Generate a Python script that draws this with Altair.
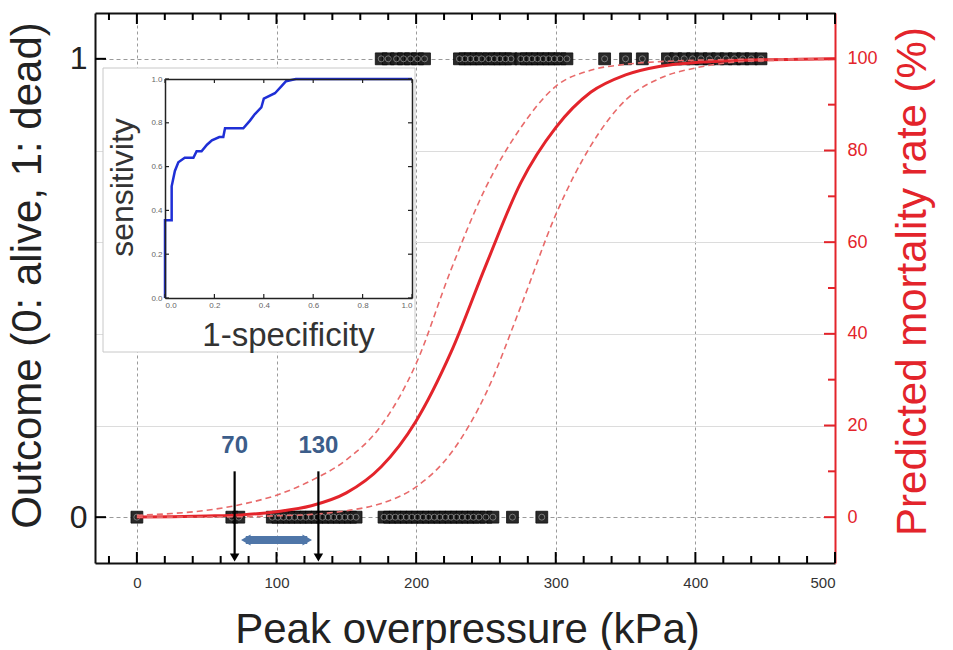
import altair as alt
import pandas as pd

# ---------------- data ----------------
dead_kpa = [175, 180, 186, 191, 196, 201, 206, 231, 235, 239, 243, 247, 252, 256, 260, 264,
            268, 275, 279, 283, 287, 291, 295, 299, 303, 308, 335, 350, 362, 380, 386, 392,
            398, 404, 410, 416, 422, 428, 434, 440, 447]
alive_kpa = [0, 68, 73, 97, 101, 105, 109, 113, 117, 121, 125, 129, 133, 137, 141, 145, 149,
             153, 157, 177, 181, 185, 189, 193, 197, 201, 205, 209, 213, 217, 221, 225, 229,
             233, 237, 241, 245, 250, 255, 269, 290]

curve_kpa = [0, 25, 50, 75, 100, 125, 150, 175, 200, 225, 250, 275, 300, 325, 350, 375,
             400, 425, 450, 475, 500]
fit_pct = [0.05, 0.1, 0.25, 0.5, 1.2, 2.5, 5.3, 11, 21, 36, 55, 73, 85, 92.7, 96.5, 98.4,
           99.2, 99.6, 99.8, 99.9, 100]
upper_pct = [0.4, 0.8, 1.5, 2.8, 4.8, 8, 12.5, 20, 33.5, 54, 72, 85, 94, 97.5, 98.8, 99.4,
             99.7, 99.85, 99.95, 100, 100]
lower_pct = [0, 0.02, 0.05, 0.1, 0.3, 0.6, 1.4, 3, 6.6, 14, 27, 46, 66, 81, 91, 95.8,
             98, 99.2, 99.6, 99.8, 99.9]

roc_fpr = [0, 0, 0.027, 0.027, 0.04, 0.054, 0.08, 0.115, 0.128, 0.148, 0.17, 0.19, 0.22,
           0.236, 0.243, 0.317, 0.344, 0.364, 0.39, 0.40, 0.445, 0.47, 0.49, 0.53, 1.0]
roc_tpr = [0, 0.355, 0.355, 0.51, 0.58, 0.62, 0.64, 0.64, 0.67, 0.67, 0.70, 0.72, 0.735,
           0.735, 0.775, 0.775, 0.81, 0.84, 0.87, 0.91, 0.935, 0.965, 0.99, 1.0, 1.0]

cut_kpa = [70, 130]
cut_labels = ["70", "130"]
range_kpa = [78, 122]

x_ticks = [0, 100, 200, 300, 400, 500]
x_minor = [v for v in range(-20, 501, 20) if v % 100 != 0]
out_ticks = [0, 1]
pct_ticks = [0, 20, 40, 60, 80, 100]
pct_minor = [10, 30, 50, 70, 90]
roc_ticks = [0, 0.2, 0.4, 0.6, 0.8, 1.0]

# ---------------- styling ----------------
FONT = "Liberation Sans"
RED = "#e3242b"
RED_LIGHT = "#e86a6a"
BLUE = "#4f76a8"
BLUE_TXT = "#3c5d8a"
W, H = 740, 550
X_LO, X_HI = -30, 500
O_LO, O_HI = -0.1, 1.1
P_LO, P_HI = -10, 110
PX_X = (X_HI - X_LO) / W      # kPa per pixel
PX_O = (O_HI - O_LO) / H      # outcome units per pixel

xs = alt.Scale(domain=[X_LO, X_HI], nice=False, zero=False)
ys_out = alt.Scale(domain=[O_LO, O_HI], nice=False, zero=False)
ys_pct = alt.Scale(domain=[P_LO, P_HI], nice=False, zero=False)
ix = alt.Scale(domain=[0, 1], range=[70, 317], nice=False, zero=False)
iy = alt.Scale(domain=[0, 1], range=[285, 66], nice=False, zero=False)

markers = pd.concat([
    pd.DataFrame({"kpa": dead_kpa, "outcome": [1] * len(dead_kpa)}),
    pd.DataFrame({"kpa": alive_kpa, "outcome": [0] * len(alive_kpa)}),
])
curves = pd.DataFrame({"kpa": curve_kpa, "fit": fit_pct, "upper": upper_pct, "lower": lower_pct})
roc = pd.DataFrame({"fpr": roc_fpr, "tpr": roc_tpr, "order": list(range(len(roc_fpr)))})
cuts = pd.DataFrame({"kpa": cut_kpa, "label": cut_labels, "top": [0.1, 0.1], "bottom": [-0.088, -0.088],
                     "ly": [0.155, 0.155]})
rng = pd.DataFrame({"a": [range_kpa[0]], "b": [range_kpa[1]], "y": [-0.05]})
rng_heads = pd.DataFrame({"kpa": range_kpa, "y": [-0.05, -0.05], "shape": ["triangle-left", "triangle-right"]})


def xticks_layer(vals, edge, length):
    """Inward ticks along a horizontal edge of the main frame."""
    d = length * PX_O * (1 if edge == O_LO else -1)
    df = pd.DataFrame({"v": vals, "a": [edge] * len(vals), "b": [edge + d] * len(vals)})
    return alt.Chart(df).mark_rule(color="#000", strokeWidth=2).encode(
        x=alt.X("v:Q", scale=xs, axis=None),
        y=alt.Y("a:Q", scale=ys_out, axis=None),
        y2="b:Q",
    )


def yticks_layer(vals, scale, edge, length, color):
    """Inward ticks along a vertical edge of the main frame."""
    d = length * PX_X * (1 if edge == X_LO else -1)
    df = pd.DataFrame({"v": vals, "a": [edge] * len(vals), "b": [edge + d] * len(vals)})
    return alt.Chart(df).mark_rule(color=color, strokeWidth=2).encode(
        y=alt.Y("v:Q", scale=scale, axis=None),
        x=alt.X("a:Q", scale=xs, axis=None),
        x2="b:Q",
    )


def inset_ticks(horizontal, edge, length):
    if horizontal:
        d = length / 219 * (1 if edge == 0 else -1)
        df = pd.DataFrame({"v": roc_ticks, "a": [edge] * 6, "b": [edge + d] * 6})
        return alt.Chart(df).mark_rule(color="#222", strokeWidth=1.2).encode(
            x=alt.X("v:Q", scale=ix, axis=None), y=alt.Y("a:Q", scale=iy, axis=None), y2="b:Q")
    d = length / 247 * (1 if edge == 0 else -1)
    df = pd.DataFrame({"v": roc_ticks, "a": [edge] * 6, "b": [edge + d] * 6})
    return alt.Chart(df).mark_rule(color="#222", strokeWidth=1.2).encode(
        y=alt.Y("v:Q", scale=iy, axis=None), x=alt.X("a:Q", scale=ix, axis=None), x2="b:Q")


# main markers (carry main x-axis and left y-axis)
sq = alt.Chart(markers).mark_point(shape="square", filled=True, size=140, color="#1e1e1e",
                                   stroke="#000", strokeWidth=0.8, opacity=0.95).encode(
    x=alt.X("kpa:Q", scale=xs, axis=alt.Axis(
        orient="bottom", values=x_ticks, grid=True, gridDash=[3, 3], gridColor="#9a9a9a",
        ticks=False, domainColor="#111", domainWidth=2, labelFontSize=15, labelColor="#333",
        labelPadding=12, title="Peak overpressure (kPa)", titleFontSize=42,
        titleFontWeight="normal", titleColor="#222", titleX=372, titleY=66,
        titleBaseline="middle", titleAlign="center")),
    y=alt.Y("outcome:Q", scale=ys_out, axis=alt.Axis(
        orient="left", values=out_ticks, format="d", grid=True, gridDash=[4, 3],
        gridColor="#9a9a9a", ticks=False, domainColor="#111", domainWidth=2, labelFontSize=32,
        labelColor="#222", labelPadding=8, title="Outcome (0: alive, 1: dead)",
        titleFontSize=42, titleFontWeight="normal", titleColor="#222", titleX=-68,
        titleY=262, titleAngle=270, titleBaseline="middle", titleAlign="center")),
)

ring = alt.Chart(markers).mark_point(shape="circle", size=36, filled=False, color="#a8a8a8",
                                     strokeWidth=0.9).encode(
    x=alt.X("kpa:Q", scale=xs, axis=None),
    y=alt.Y("outcome:Q", scale=ys_out, axis=None),
)

# fitted curve (carries top frame line and right axis)
fit = alt.Chart(curves).mark_line(color=RED, strokeWidth=3, interpolate="monotone").encode(
    x=alt.X("kpa:Q", scale=xs, axis=alt.Axis(
        orient="bottom", offset=-H, values=x_ticks, labels=False, ticks=False, grid=False,
        domain=True, domainColor="#111", domainWidth=2, title=None)),
    y=alt.Y("fit:Q", scale=ys_pct, axis=alt.Axis(
        orient="right", values=pct_ticks, grid=False, ticks=False, domainColor=RED,
        domainWidth=2, labelFontSize=18, labelColor=RED, labelPadding=12,
        title="Predicted mortality rate (%)", titleFontSize=42, titleFontWeight="normal",
        titleColor=RED, titleX=77, titleY=268, titleAngle=270, titleBaseline="middle",
        titleAlign="center")),
)

upper = alt.Chart(curves).mark_line(color=RED_LIGHT, strokeWidth=1.6, strokeDash=[6, 4],
                                    interpolate="monotone").encode(
    x=alt.X("kpa:Q", scale=xs, axis=None),
    y=alt.Y("upper:Q", scale=ys_pct, axis=None),
)

lower = alt.Chart(curves).mark_line(color=RED_LIGHT, strokeWidth=1.6, strokeDash=[6, 4],
                                    interpolate="monotone").encode(
    x=alt.X("kpa:Q", scale=xs, axis=None),
    y=alt.Y("lower:Q", scale=ys_pct, axis=alt.Axis(
        orient="left", offset=-W, values=[20, 40, 60, 80], labels=False, domain=False,
        grid=True, gridColor="#dcdcdc", gridWidth=1, ticks=False, title=None)),
)

arrows = alt.Chart(cuts).mark_rule(color="#000", strokeWidth=2.2).encode(
    x=alt.X("kpa:Q", scale=xs, axis=None),
    y=alt.Y("top:Q", scale=ys_out, axis=None),
    y2="bottom:Q",
)
heads = alt.Chart(cuts).mark_point(shape="triangle-down", filled=True, color="#000", size=90,
                                   opacity=1).encode(
    x=alt.X("kpa:Q", scale=xs, axis=None),
    y=alt.Y("bottom:Q", scale=ys_out, axis=None),
)
labels = alt.Chart(cuts).mark_text(fontSize=24, fontWeight="bold", color=BLUE_TXT,
                                   font=FONT).encode(
    x=alt.X("kpa:Q", scale=xs, axis=None),
    y=alt.Y("ly:Q", scale=ys_out, axis=None),
    text="label:N",
)
span = alt.Chart(rng).mark_rule(color=BLUE, strokeWidth=8).encode(
    x=alt.X("a:Q", scale=xs, axis=None),
    x2="b:Q",
    y=alt.Y("y:Q", scale=ys_out, axis=None),
)
span_heads = alt.Chart(rng_heads).mark_point(filled=True, color=BLUE, size=120, opacity=1).encode(
    x=alt.X("kpa:Q", scale=xs, axis=None),
    y=alt.Y("y:Q", scale=ys_out, axis=None),
    shape=alt.Shape("shape:N", scale=None),
)

frame_ticks = [
    xticks_layer(x_minor, O_LO, 7), xticks_layer(x_ticks, O_LO, 11),
    xticks_layer(x_minor, O_HI, 7), xticks_layer(x_ticks, O_HI, 11),
    yticks_layer(out_ticks, ys_out, X_LO, 11, "#000"),
    yticks_layer(pct_minor, ys_pct, X_HI, 7, RED),
    yticks_layer(pct_ticks, ys_pct, X_HI, 11, RED),
]

# inset
box = alt.Chart(pd.DataFrame({"a": [0]})).mark_rect(fill="white", stroke="#c8c8c8",
                                                     strokeWidth=1).encode(
    x=alt.value(8), x2=alt.value(320), y=alt.value(55), y2=alt.value(339),
)
roc_line = alt.Chart(roc).mark_line(color="#1f2fd6", strokeWidth=2.5, interpolate="linear").encode(
    x=alt.X("fpr:Q", scale=ix, axis=alt.Axis(
        orient="bottom", offset=-(H - 285), values=roc_ticks, format=".1f", grid=False,
        domainColor="#222", domainWidth=1.5, ticks=False, labelFontSize=8, labelColor="#666",
        labelPadding=3, zindex=2, title="1-specificity", titleFontSize=33,
        titleFontWeight="normal", titleColor="#333", titleX=193, titleY=37,
        titleBaseline="middle", titleAlign="center")),
    y=alt.Y("tpr:Q", scale=iy, axis=alt.Axis(
        orient="left", offset=-70, values=roc_ticks, format=".1f", grid=False,
        domainColor="#222", domainWidth=1.5, ticks=False, labelFontSize=8, labelColor="#666",
        labelPadding=3, zindex=2, title="sensitivity", titleFontSize=32,
        titleFontWeight="normal", titleColor="#333", titleX=-43, titleY=174, titleAngle=270,
        titleBaseline="middle", titleAlign="center")),
    order="order:Q",
)
roc_frame = alt.Chart(roc).mark_line(strokeOpacity=0).encode(
    x=alt.X("fpr:Q", scale=ix, axis=alt.Axis(
        orient="bottom", offset=-(H - 66), values=roc_ticks, labels=False, ticks=False,
        grid=False, domainColor="#222", domainWidth=1.5, zindex=2, title=None)),
    y=alt.Y("tpr:Q", scale=iy, axis=alt.Axis(
        orient="left", offset=-317, values=roc_ticks, labels=False, ticks=False, grid=False,
        domainColor="#222", domainWidth=1.5, zindex=2, title=None)),
    order="order:Q",
)
inset_tick_layers = [inset_ticks(True, 0, 4), inset_ticks(True, 1, 4),
                     inset_ticks(False, 0, 4), inset_ticks(False, 1, 4)]

chart = alt.layer(
    sq, ring, fit, upper, lower, arrows, heads, labels, span, span_heads, *frame_ticks,
    box, roc_line, roc_frame, *inset_tick_layers
).resolve_scale(x="independent", y="independent").resolve_axis(
    x="independent", y="independent"
).properties(
    width=W, height=H,
    padding={"left": 95, "top": 13, "right": 118, "bottom": 87},
    autosize=alt.AutoSizeParams(type="none"),
).configure_view(stroke=None).configure_axis(
    labelFont=FONT, titleFont=FONT
).configure_text(font=FONT)

chart.save("out.html", embed_options={"renderer": "svg", "actions": False})
